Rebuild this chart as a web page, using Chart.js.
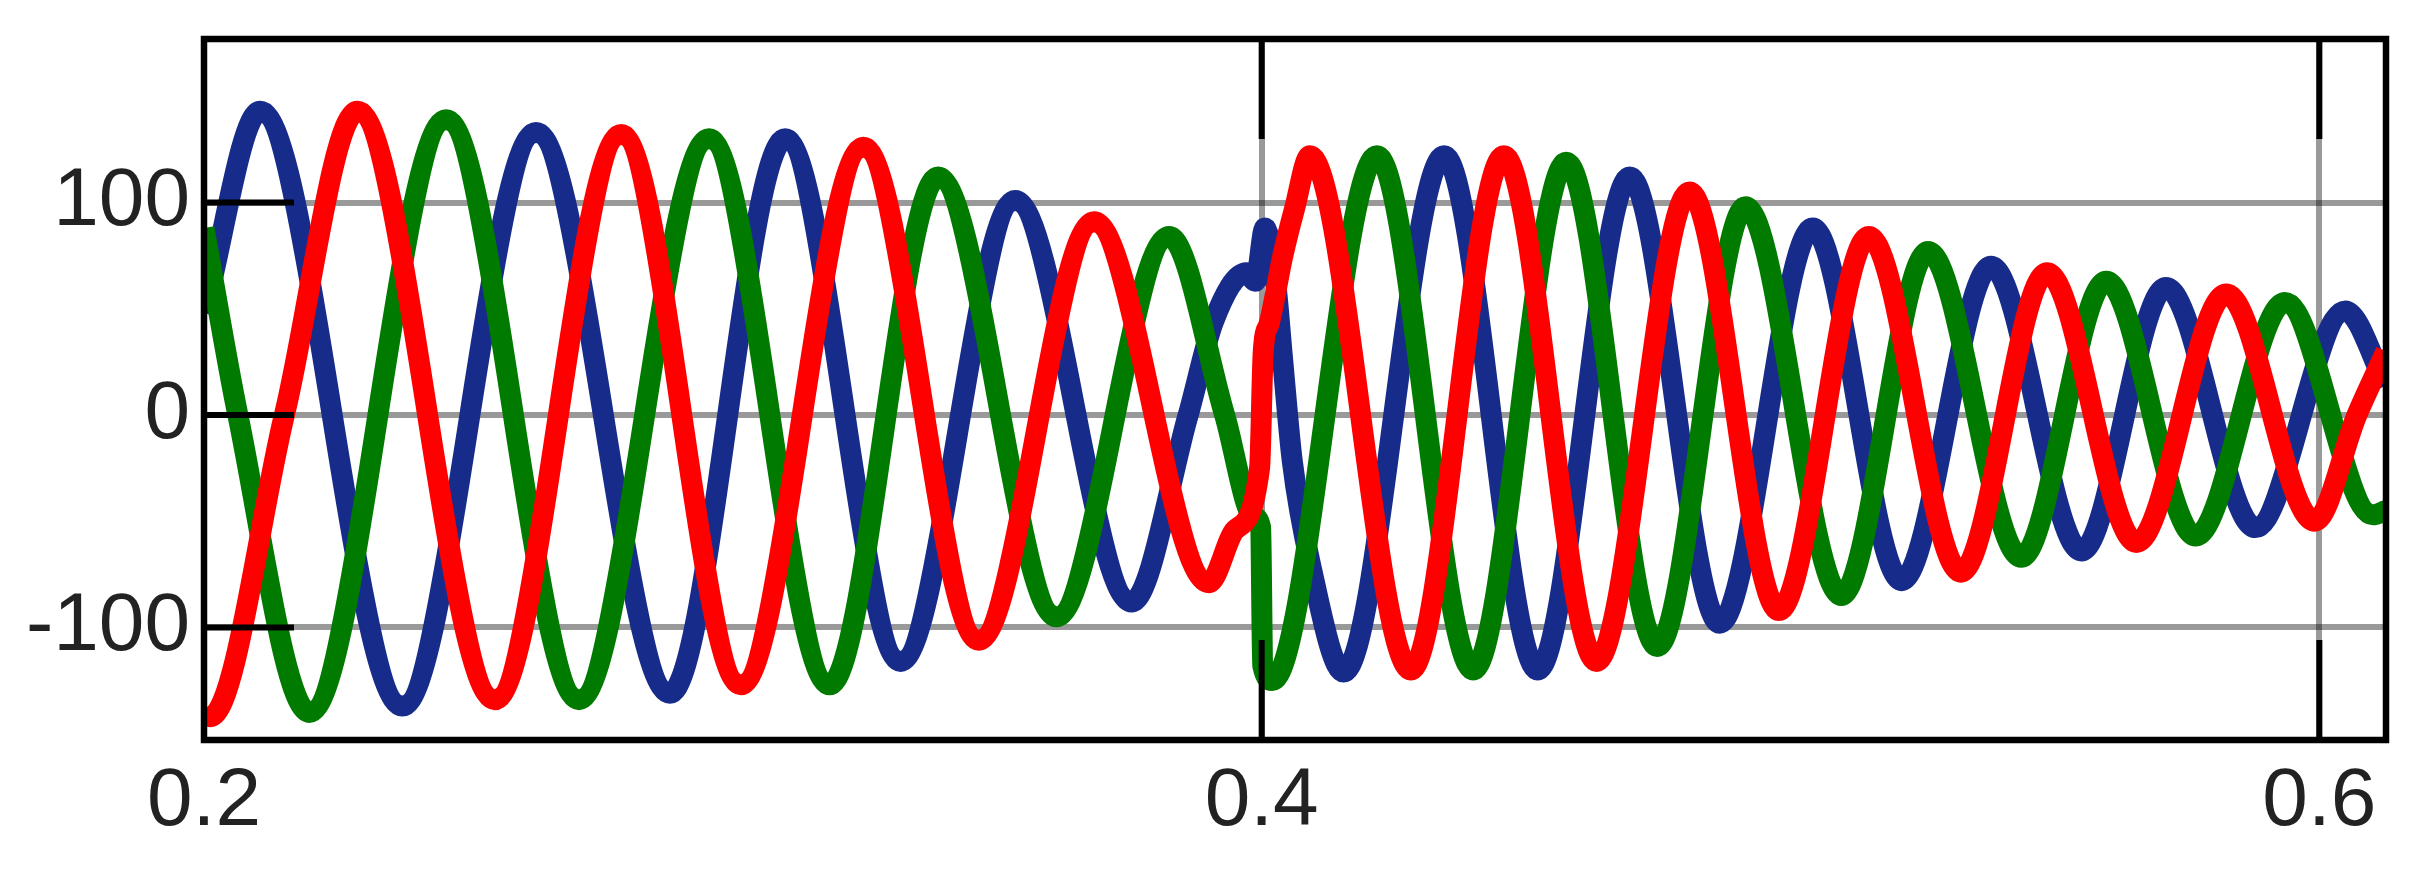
<!DOCTYPE html>
<html lang="en">
<head>
    <meta charset="UTF-8">
    <title>Three-phase waveforms</title>
    <script src="https://cdn.jsdelivr.net/npm/chart.js"></script>
    <style>
        html, body { margin: 0; padding: 0; background: #fff; }
    </style>
</head>
<body>

    <canvas id="chart" width="2427" height="869"></canvas>

    <script>
        // values: peaks, troughs and a few points around the jump at t = 0.4
        const redT   = [0.2000, 0.2012, 0.2152, 0.2290, 0.2550, 0.2789, 0.3015, 0.3247, 0.3465, 0.3683, 0.3900, 0.3950, 0.3996, 0.4003, 0.4014, 0.4040, 0.4062, 0.4091, 0.4282, 0.4458, 0.4633, 0.4809, 0.4978, 0.5148, 0.5322, 0.5485, 0.5654, 0.5824, 0.5991, 0.6071, 0.6126];
        const redV   = [-139, -142, 0, 143, -134, 132, -127, 126, -106, 91, -79, -54, -25, 30, 43, 75, 97, 122, -120, 122, -116, 105, -92, 84, -74, 67, -60, 57, -50, 0, 30];

        const greenT = [0.2000, 0.2064, 0.2199, 0.2458, 0.2709, 0.2955, 0.3183, 0.3388, 0.3612, 0.3825, 0.3930, 0.3985, 0.3998, 0.4002, 0.4020, 0.4218, 0.4400, 0.4576, 0.4748, 0.4915, 0.5096, 0.5260, 0.5436, 0.5597, 0.5766, 0.5935, 0.6101, 0.6126];
        const greenV = [88, 0, -140, 139, -134, 130, -127, 112, -95, 84, 0, -48, -53, -118, -125, 122, -120, 119, -109, 98, -85, 77, -67, 63, -57, 53, -47, -45];

        const blueT  = [0.2000, 0.2106, 0.2375, 0.2628, 0.2881, 0.3099, 0.3317, 0.3534, 0.3754, 0.3861, 0.3909, 0.3971, 0.3988, 0.4006, 0.4027, 0.4040, 0.4058, 0.4092, 0.4155, 0.4345, 0.4522, 0.4696, 0.4866, 0.5042, 0.5210, 0.5379, 0.5550, 0.5710, 0.5879, 0.6049, 0.6126];
        const blueV  = [48, 143, -137, 133, -131, 130, -116, 101, -88, 0, 44, 67, 63, 88, 61, 25, -22, -70, -121, 122, -120, 112, -98, 88, -78, 70, -64, 60, -53, 49, 14];

        const xTicks = [0.2, 0.4, 0.6];
        const xLabels = ['0.2', '0.4', '0.6'];
        const yTicks = [-100, 0, 100];
        const yLabels = ['-100', '0', '100'];

        const pts = (t, v) => t.map((x, i) => ({ x: x, y: v[i] }));

        // black frame and the inward tick marks, drawn over the curves
        const framePlugin = {
            id: 'frame',
            afterDatasetsDraw(chart) {
                const { ctx, chartArea: a, scales: { x, y } } = chart;
                ctx.save();
                ctx.strokeStyle = '#000';
                ctx.lineWidth = 6;
                ctx.beginPath();
                xTicks.forEach(v => {
                    const px = x.getPixelForValue(v);
                    ctx.moveTo(px, a.top);
                    ctx.lineTo(px, a.top + 100);
                    ctx.moveTo(px, a.bottom);
                    ctx.lineTo(px, a.bottom - 100);
                });
                yTicks.forEach(v => {
                    const py = y.getPixelForValue(v);
                    ctx.moveTo(a.left, py);
                    ctx.lineTo(a.left + 90, py);
                });
                ctx.stroke();
                ctx.lineWidth = 6.5;
                ctx.strokeRect(a.left, a.top, a.right - a.left, a.bottom - a.top);
                ctx.restore();
            }
        };

        const tickFont = { family: "'Liberation Sans', Arial, sans-serif", size: 82, lineHeight: 1.2 };

        new Chart(document.getElementById('chart'), {
            type: 'line',
            data: {
                datasets: [
                    { data: pts(redT, redV), borderColor: '#ff0000' },
                    { data: pts(greenT, greenV), borderColor: '#007b00' },
                    { data: pts(blueT, blueV), borderColor: '#172b8a' }
                ]
            },
            options: {
                responsive: false,
                animation: false,
                devicePixelRatio: 1,
                layout: { padding: { top: 39, right: 41, left: 0, bottom: 0 } },
                plugins: {
                    legend: { display: false },
                    tooltip: { enabled: false }
                },
                elements: {
                    point: { radius: 0 },
                    line: {
                        borderWidth: 21,
                        cubicInterpolationMode: 'monotone',
                        borderJoinStyle: 'round',
                        fill: false
                    }
                },
                scales: {
                    x: {
                        type: 'linear',
                        min: 0.2,
                        max: 0.6126,
                        afterBuildTicks: s => { s.ticks = xTicks.map(v => ({ value: v })); },
                        afterFit: s => { s.height = 129; s.paddingLeft = 0; s.paddingRight = 0; },
                        border: { display: false },
                        grid: { color: 'rgba(0,0,0,0.4)', lineWidth: 6, drawTicks: false },
                        ticks: {
                            color: '#222',
                            font: tickFont,
                            padding: 13,
                            maxRotation: 0,
                            autoSkip: false,
                            callback: (v, i) => xLabels[i]
                        }
                    },
                    y: {
                        min: -153,
                        max: 177,
                        afterBuildTicks: s => { s.ticks = yTicks.map(v => ({ value: v })); },
                        afterFit: s => { s.width = 204; s.paddingTop = 0; s.paddingBottom = 0; },
                        border: { display: false },
                        grid: { color: 'rgba(0,0,0,0.4)', lineWidth: 6, drawTicks: false },
                        ticks: {
                            color: '#222',
                            font: tickFont,
                            padding: 14,
                            autoSkip: false,
                            callback: (v, i) => yLabels[i]
                        }
                    }
                }
            },
            plugins: [framePlugin]
        });
    </script>

</body>
</html>
